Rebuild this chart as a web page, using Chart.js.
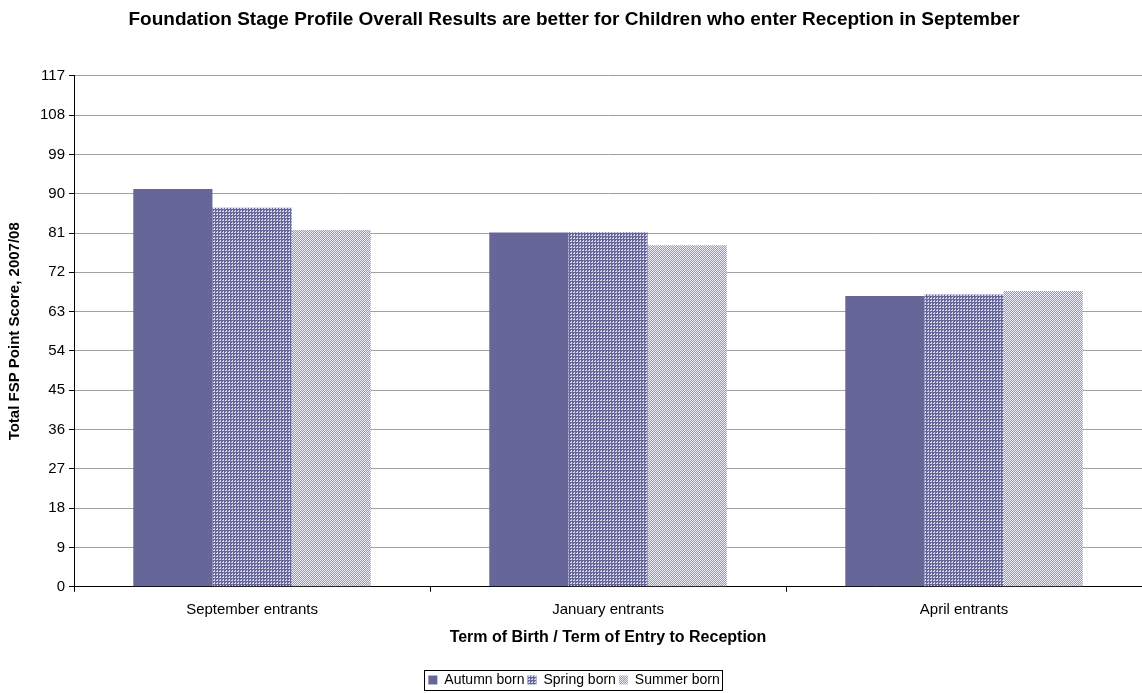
<!DOCTYPE html>
<html lang="en">
<head>
  <meta charset="UTF-8">
  <title>Foundation Stage Profile Overall Results</title>
  <script src="https://cdn.jsdelivr.net/npm/chart.js"></script>
  <style>
    html, body {
      margin: 0;
      padding: 0;
      background: #fff;
    }
    #wrap {
      width: 1142px;
      height: 693px;
    }
  </style>
</head>
<body>
  <div id="wrap"><canvas id="fspChart"></canvas></div>

  <script>
    const categories = ['September entrants', 'January entrants', 'April entrants'];
    const autumnBorn = [91.1, 81.1, 66.6];
    const springBorn = [86.8, 81.2, 66.9];
    const summerBorn = [81.7, 78.2, 67.7];
    const yTicks = [0, 9, 18, 27, 36, 45, 54, 63, 72, 81, 90, 99, 108, 117];

    // small tiled fills to mimic the Excel dotted patterns
    const makePattern = (base, dot, size, dots) => {
      const c = document.createElement('canvas');
      c.width = size;
      c.height = size;
      const g = c.getContext('2d');
      g.fillStyle = base;
      g.fillRect(0, 0, size, size);
      g.fillStyle = dot;
      dots.forEach(([x, y]) => g.fillRect(x, y, 1, 1));
      return g.createPattern(c, 'repeat');
    };

    const springFill = makePattern('#666699', '#d4d4ea', 3, [[1, 1], [0, 1], [1, 0]]);
    const summerFill = makePattern('#9494c6', '#eeeef8', 2, [[0, 0], [1, 1]]);

    // draw a frame around the legend like the original
    const legendBox = {
      id: 'legendBox',
      afterDraw(chart) {
        const l = chart.legend;
        const ctx = chart.ctx;
        const w = l.legendHitBoxes;
        if (!w.length) return;
        const x0 = w[0].left - 4;
        const x1 = w[w.length - 1].left + w[w.length - 1].width + 3;
        const y0 = w[0].top - 3;
        const y1 = w[0].top + w[0].height + 3;
        ctx.save();
        ctx.strokeStyle = '#000';
        ctx.lineWidth = 1;
        ctx.strokeRect(Math.round(x0) + 0.5, Math.round(y0) + 0.5, Math.round(x1 - x0), Math.round(y1 - y0));
        ctx.restore();
      }
    };

    Chart.defaults.font.family = '"Liberation Sans", Arial, sans-serif';
    Chart.defaults.color = '#000';

    new Chart(document.getElementById('fspChart'), {
      type: 'bar',
      data: {
        labels: categories,
        datasets: [
          { label: 'Autumn born', data: autumnBorn, backgroundColor: '#666699' },
          { label: 'Spring born', data: springBorn, backgroundColor: springFill },
          { label: 'Summer born', data: summerBorn, backgroundColor: summerFill }
        ]
      },
      options: {
        responsive: true,
        maintainAspectRatio: false,
        animation: false,
        categoryPercentage: 0.667,
        barPercentage: 1.0,
        layout: { padding: { left: 6, right: 0, top: 8, bottom: -4 } },
        plugins: {
          title: {
            display: true,
            text: 'Foundation Stage Profile Overall Results are better for Children who enter Reception in September',
            font: { size: 19, weight: 'bold' },
            padding: { top: 0, bottom: 45 }
          },
          legend: {
            position: 'bottom',
            labels: {
              boxWidth: 9,
              boxHeight: 9,
              padding: 3,
              font: { size: 14 }
            }
          },
          tooltip: { enabled: false }
        },
        scales: {
          x: {
            grid: {
              offset: true,
              drawOnChartArea: false,
              drawTicks: true,
              tickLength: 5,
              color: '#000'
            },
            border: { color: '#000' },
            ticks: { font: { size: 15 }, padding: 9 },
            title: {
              display: true,
              text: 'Term of Birth / Term of Entry to Reception',
              font: { size: 16, weight: 'bold' },
              padding: { top: 0, bottom: 23 }
            }
          },
          y: {
            min: 0,
            max: 117,
            afterBuildTicks(axis) {
              axis.ticks = yTicks.map(v => ({ value: v }));
            },
            grid: {
              color: '#a0a0a0',
              tickColor: '#000',
              tickLength: 5
            },
            border: { color: '#000' },
            ticks: { font: { size: 15 }, padding: 4 },
            title: {
              display: true,
              text: 'Total FSP Point Score, 2007/08',
              font: { size: 15, weight: 'bold' },
              padding: { top: 0, bottom: 12 }
            }
          }
        }
      },
      plugins: [legendBox]
    });
  </script>
</body>
</html>
